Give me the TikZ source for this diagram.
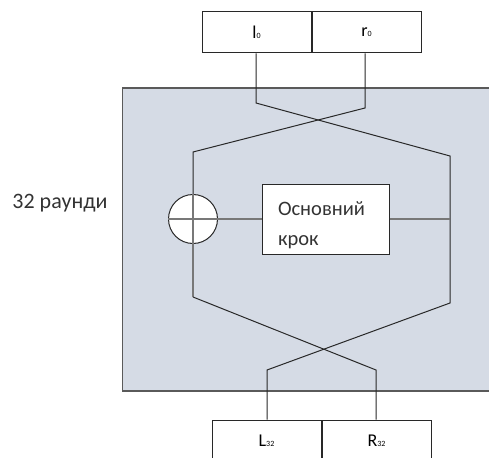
\documentclass[tikz,border=0pt]{standalone}
\usepackage{fontspec}
\setmainfont{Carlito}
\usetikzlibrary{positioning}
\definecolor{roundbg}{RGB}{213,219,229}
\definecolor{roundedge}{RGB}{90,90,90}
\definecolor{wire}{RGB}{40,40,40}
\definecolor{softwire}{RGB}{120,120,120}
\newcommand{\halfname}[2]{\raisebox{-4pt}{{\fontsize{18}{20}\selectfont #1}{\fontsize{8}{9}\selectfont #2}}}
\begin{document}
\begin{tikzpicture}[x=1pt,y=-1pt]
                \tikzstyle{half} = [rectangle, minimum width=109pt, minimum height=41pt, inner sep=0pt, draw=wire, fill=white, line width=1pt]
                \tikzstyle{line} = [draw=wire, line width=1pt]
                \tikzstyle{soft} = [draw=softwire, line width=1.2pt]
                \useasboundingbox (0,0) rectangle (489,457);

                % the round
                \draw [fill=roundbg, draw=roundedge, line width=1.2pt] (122.5,88) rectangle (495,391);
                \node (rounds) at (60,203) [font=\fontsize{22}{26}\selectfont, text=black!80] {32 раунди};

                % halves in and out
                \node (l0) at (256.5,32.5) [half] {\halfname{l}{0}};
                \node (r0) [half, right=0pt of l0] {\halfname{r}{0}};
                \node (L32) at (266.5,440.5) [half] {\halfname{L}{32}};
                \node (R32) [half, right=0pt of L32] {\halfname{R}{32}};

                % round function
                \node (xor) at (193,219) [circle, draw=wire, fill=white, minimum size=49pt, inner sep=0pt, line width=1pt] {};
                \node (osn) at (325.5,219) [rectangle, draw=wire, fill=white, minimum width=127pt, minimum height=70pt, line width=1pt] {};
                \node (osntext) at (331,225) [align=left, text width=106pt, font=\fontsize{20.5}{30}\selectfont, text=black!80] {Основний\\крок};

                \coordinate (a1) at (256,103);
                \coordinate (a2) at (450,156);
                \coordinate (a3) at (450,303);
                \coordinate (a4) at (267,370);
                \coordinate (b1) at (365,108);
                \coordinate (b2) at (193,152);
                \coordinate (b3) at (193,297);
                \coordinate (b4) at (376,370);
                \coordinate (tap) at (450,219);

                \draw [line] (l0.south -| a1) -- (a1) -- (a2) -- (a3) -- (a4) -- (L32.north -| a4);
                \draw [line] (r0.south -| b1) -- (b1) -- (b2) -- (xor.north);
                \draw [soft] (xor.north) -- (xor.south);
                \draw [soft] (xor.west) -- (xor.east);
                \draw [soft] (xor.south) -- (b3);
                \draw [line] (b3) -- (b4) -- (R32.north -| b4);
                \draw [soft] (xor.east) -- (osn.west);
                \draw [soft] (osn.east) -- (tap);
            \end{tikzpicture}
\end{document}
